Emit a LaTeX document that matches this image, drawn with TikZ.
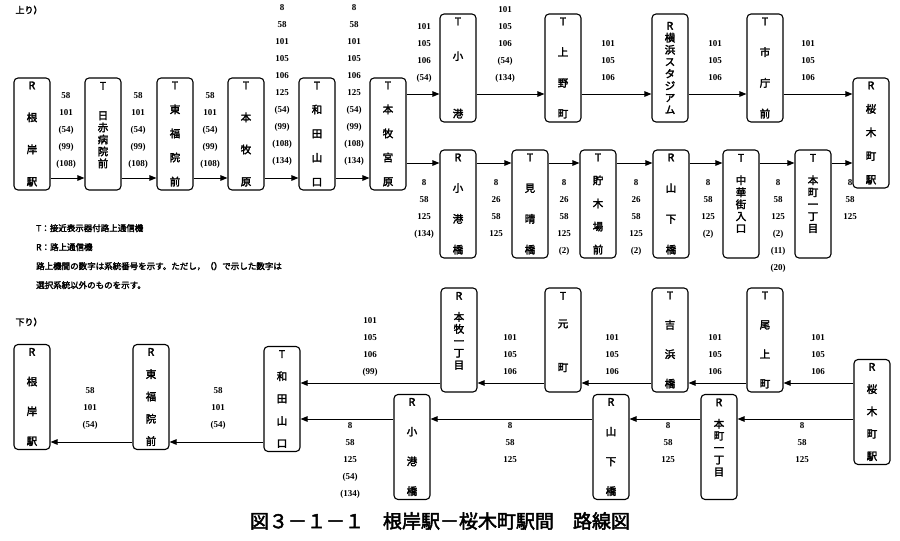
\documentclass[tikz,border=0pt]{standalone}
\usepackage{fontspec}
\setmainfont{Liberation Serif}
\newfontfamily\jp[AutoFakeBold=2.5]{Noto Sans CJK JP}
\usetikzlibrary{arrows.meta}
\newcommand\vstk[2]{\parbox[c][#1][s]{30pt}{\centering\jp\bfseries\fontsize{10.5}{12}\selectfont #2}}

\begin{document}
\begin{tikzpicture}[x=1pt,y=-1pt,
	stn/.style={draw,line width=1.1pt,rounded corners=4pt,minimum width=36pt,inner sep=0pt},
	arr/.style={-{Triangle[length=7pt,width=5.5pt]},line width=1pt},
	nums/.style={anchor=north,inner sep=0pt,align=center,font=\bfseries\fontsize{9}{17}\selectfont}]
	\useasboundingbox (0,0) rectangle (900,541);

	\node [anchor=west,font=\jp\bfseries\fontsize{9}{10}\selectfont] at (12,10) {上り）};
	% upper route, main row
	\node (negishi) [stn,minimum height=112pt] at (32,134) {\vstk{104pt}{R\par\vfill 根\par\vfill 岸\par\vfill 駅}};
	\node (nisseki) [stn,minimum height=112pt] at (103,134) {\vstk{104pt}{T\par\vfill 日\par 赤\par 病\par 院\par 前\par\vfill}};
	\node (tofuku) [stn,minimum height=112pt] at (175,134) {\vstk{104pt}{T\par\vfill 東\par\vfill 福\par\vfill 院\par\vfill 前}};
	\node (honmokuhara) [stn,minimum height=112pt] at (246,134) {\vstk{104pt}{T\par\vfill 本\par\vfill 牧\par\vfill 原}};
	\node (wada) [stn,minimum height=112pt] at (317,134) {\vstk{104pt}{T\par\vfill 和\par\vfill 田\par\vfill 山\par\vfill 口}};
	\node (miyahara) [stn,minimum height=112pt] at (388,134) {\vstk{104pt}{T\par\vfill 本\par\vfill 牧\par\vfill 宮\par\vfill 原}};
	% upper branch
	\node (kominato) [stn,minimum height=108pt] at (458,68) {\vstk{100pt}{T\par\vfill 小\par\vfill\vfill 港}};
	\node (uenocho) [stn,minimum height=108pt] at (563,68) {\vstk{100pt}{T\par\vfill 上\par\vfill 野\par\vfill 町}};
	\node (stadium) [stn,minimum height=108pt] at (670,68) {\vstk{100pt}{\vfill R\par 横\par 浜\par ス\par タ\par ジ\par ア\par ム\par\vfill}};
	\node (shicho) [stn,minimum height=108pt] at (765,68) {\vstk{100pt}{T\par\vfill 市\par\vfill 庁\par\vfill 前}};
	\node (sakuragi) [stn,minimum height=110pt] at (871,133) {\vstk{102pt}{R\par\vfill 桜\par\vfill 木\par\vfill 町\par\vfill 駅}};
	% lower branch
	\node (kominatobashi) [stn,minimum height=108pt] at (458,204) {\vstk{100pt}{R\par\vfill 小\par\vfill 港\par\vfill 橋}};
	\node (miharashi) [stn,minimum height=108pt] at (530,204) {\vstk{100pt}{T\par\vfill 見\par\vfill 晴\par\vfill 橋}};
	\node (chobokujo) [stn,minimum height=108pt] at (598,204) {\vstk{100pt}{T\par\vfill 貯\par\vfill 木\par\vfill 場\par\vfill 前}};
	\node (yamashita) [stn,minimum height=108pt] at (671,204) {\vstk{100pt}{R\par\vfill 山\par\vfill 下\par\vfill 橋}};
	\node (chukagai) [stn,minimum height=108pt] at (741,204) {\vstk{100pt}{T\par\vfill 中\par 華\par 街\par 入\par 口\par\vfill\vfill}};
	\node (honcho) [stn,minimum height=108pt] at (813,204) {\vstk{100pt}{T\par\vfill 本\par 町\par 一\par 丁\par 目\par\vfill\vfill}};

	\draw[arr] (negishi.east |- 0,178) -- (nisseki.west |- 0,178);
	\draw[arr] (nisseki.east |- 0,178) -- (tofuku.west |- 0,178);
	\draw[arr] (tofuku.east |- 0,178) -- (honmokuhara.west |- 0,178);
	\draw[arr] (honmokuhara.east |- 0,178) -- (wada.west |- 0,178);
	\draw[arr] (wada.east |- 0,178) -- (miyahara.west |- 0,178);
	\draw[arr] (miyahara.east |- 0,94) -- (kominato.west |- 0,94);
	\draw[arr] (kominato.east |- 0,94) -- (uenocho.west |- 0,94);
	\draw[arr] (uenocho.east |- 0,94) -- (stadium.west |- 0,94);
	\draw[arr] (stadium.east |- 0,94) -- (shicho.west |- 0,94);
	\draw[arr] (shicho.east |- 0,94) -- (sakuragi.west |- 0,94);
	\draw[arr] (miyahara.east |- 0,163) -- (kominatobashi.west |- 0,163);
	\draw[arr] (kominatobashi.east |- 0,163) -- (miharashi.west |- 0,163);
	\draw[arr] (miharashi.east |- 0,163) -- (chobokujo.west |- 0,163);
	\draw[arr] (chobokujo.east |- 0,163) -- (yamashita.west |- 0,163);
	\draw[arr] (yamashita.east |- 0,163) -- (chukagai.west |- 0,163);
	\draw[arr] (chukagai.east |- 0,163) -- (honcho.west |- 0,163);
	\draw[arr] (honcho.east |- 0,163) -- (sakuragi.west |- 0,163);

	\node [nums] at (66,92) {58\\101\\(54)\\(99)\\(108)};
	\node [nums] at (138,92) {58\\101\\(54)\\(99)\\(108)};
	\node [nums] at (210,92) {58\\101\\(54)\\(99)\\(108)};
	\node [nums] at (282,4) {8\\58\\101\\105\\106\\125\\(54)\\(99)\\(108)\\(134)};
	\node [nums] at (354,4) {8\\58\\101\\105\\106\\125\\(54)\\(99)\\(108)\\(134)};
	\node [nums] at (424,23) {101\\105\\106\\(54)};
	\node [nums] at (505,6) {101\\105\\106\\(54)\\(134)};
	\node [nums] at (608,40) {101\\105\\106};
	\node [nums] at (715,40) {101\\105\\106};
	\node [nums] at (808,40) {101\\105\\106};
	\node [nums] at (424,179) {8\\58\\125\\(134)};
	\node [nums] at (496,179) {8\\26\\58\\125};
	\node [nums] at (564,179) {8\\26\\58\\125\\(2)};
	\node [nums] at (636,179) {8\\26\\58\\125\\(2)};
	\node [nums] at (708,179) {8\\58\\125\\(2)};
	\node [nums] at (778,179) {8\\58\\125\\(2)\\(11)\\(20)};
	\node [nums] at (850,179) {8\\58\\125};

	% legend
	\node (legend) [anchor=north west,inner sep=0pt,align=left,font=\jp\bfseries\fontsize{8.5}{19}\selectfont] at (36,224)
		{T：接近表示器付路上通信機\\R：路上通信機\\路上機間の数字は系統番号を示す。ただし，（）で示した数字は\\選択系統以外のものを示す。};

	\node [anchor=west,font=\jp\bfseries\fontsize{9}{10}\selectfont] at (12,322) {下り）};
	% lower route
	\node (negishiD) [stn,minimum height=105pt] at (32,397) {\vstk{97pt}{R\par\vfill 根\par\vfill 岸\par\vfill 駅}};
	\node (tofukuD) [stn,minimum height=105pt] at (151,397) {\vstk{97pt}{R\par\vfill 東\par\vfill 福\par\vfill 院\par\vfill 前}};
	\node (wadaD) [stn,minimum height=105pt] at (282,399) {\vstk{97pt}{T\par\vfill 和\par\vfill 田\par\vfill 山\par\vfill 口}};
	\node (icchome) [stn,minimum height=104pt] at (459,340) {\vstk{96pt}{R\par\vfill 本\par 牧\par 一\par 丁\par 目\par\vfill\vfill}};
	\node (motomachi) [stn,minimum height=104pt] at (563,340) {\vstk{96pt}{T\par\vfill 元\par\vfill\vfill 町\par\vfill}};
	\node (yoshihama) [stn,minimum height=104pt] at (670,340) {\vstk{96pt}{T\par\vfill 吉\par\vfill 浜\par\vfill 橋}};
	\node (onoe) [stn,minimum height=104pt] at (765,340) {\vstk{96pt}{T\par\vfill 尾\par\vfill 上\par\vfill 町}};
	\node (sakuragiD) [stn,minimum height=105pt] at (872,412) {\vstk{97pt}{R\par\vfill 桜\par\vfill 木\par\vfill 町\par\vfill 駅}};
	\node (kominatobashiD) [stn,minimum height=105pt] at (412,447) {\vstk{97pt}{R\par\vfill 小\par\vfill 港\par\vfill 橋}};
	\node (yamashitaD) [stn,minimum height=105pt] at (611,447) {\vstk{97pt}{R\par\vfill 山\par\vfill 下\par\vfill 橋}};
	\node (honchoD) [stn,minimum height=105pt] at (719,447) {\vstk{97pt}{R\par\vfill 本\par 町\par 一\par 丁\par 目\par\vfill\vfill}};

	\draw[arr] (sakuragiD.west |- 0,383) -- (onoe.east |- 0,383);
	\draw[arr] (onoe.west |- 0,383) -- (yoshihama.east |- 0,383);
	\draw[arr] (yoshihama.west |- 0,383) -- (motomachi.east |- 0,383);
	\draw[arr] (motomachi.west |- 0,383) -- (icchome.east |- 0,383);
	\draw[arr] (icchome.west |- 0,383) -- (wadaD.east |- 0,383);
	\draw[arr] (sakuragiD.west |- 0,419) -- (honchoD.east |- 0,419);
	\draw[arr] (honchoD.west |- 0,419) -- (yamashitaD.east |- 0,419);
	\draw[arr] (yamashitaD.west |- 0,419) -- (kominatobashiD.east |- 0,419);
	\draw[arr] (kominatobashiD.west |- 0,419) -- (wadaD.east |- 0,419);
	\draw[arr] (wadaD.west |- 0,442) -- (tofukuD.east |- 0,442);
	\draw[arr] (tofukuD.west |- 0,442) -- (negishiD.east |- 0,442);

	\node [nums] at (818,334) {101\\105\\106};
	\node [nums] at (715,334) {101\\105\\106};
	\node [nums] at (612,334) {101\\105\\106};
	\node [nums] at (510,334) {101\\105\\106};
	\node [nums] at (370,317) {101\\105\\106\\(99)};
	\node [nums] at (802,422) {8\\58\\125};
	\node [nums] at (668,422) {8\\58\\125};
	\node [nums] at (510,422) {8\\58\\125};
	\node [nums] at (350,422) {8\\58\\125\\(54)\\(134)};
	\node [nums] at (218,387) {58\\101\\(54)};
	\node [nums] at (90,387) {58\\101\\(54)};

	\node (title) [font=\jp\bfseries\fontsize{19}{22}\selectfont] at (440,521) {図３－１－１　根岸駅－桜木町駅間　路線図};
\end{tikzpicture}
\end{document}
